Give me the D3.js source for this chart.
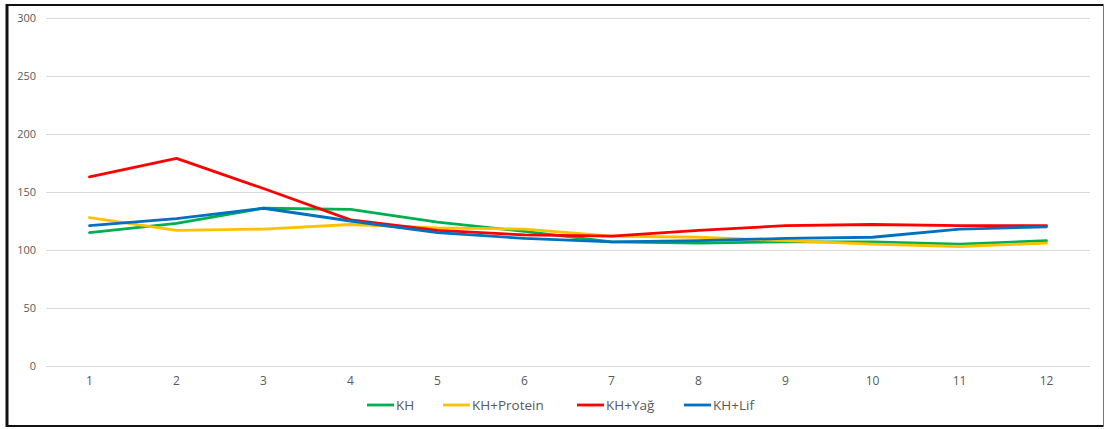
<!DOCTYPE html>
<html>
<head>
<meta charset="utf-8">
<script src="https://cdn.jsdelivr.net/npm/d3@7"></script>
<style>
  html, body { margin: 0; padding: 0; background: #fff; }
  svg { display: block; }
  text { font-family: "Open Sans", "Noto Sans", sans-serif; }
</style>
</head>
<body>
<svg id="chart" width="1105" height="429"></svg>
<script>
// Periods on the x axis
const categories = ["1", "2", "3", "4", "5", "6", "7", "8", "9", "10", "11", "12"];

// Series values
const kh        = [115, 123, 136, 135, 124, 116, 107, 106, 107, 107, 105, 108];
const khProtein = [128, 117, 118, 122, 119, 118, 112, 111, 108, 105, 103, 106];
const khYag     = [163, 179, 153, 126, 117, 113, 112, 117, 121, 122, 121, 121];
const khLif     = [121, 127, 136, 125, 115, 110, 107, 108, 110, 111, 118, 120];

const seriesNames = ["KH", "KH+Protein", "KH+Yağ", "KH+Lif"];
const seriesColors = ["#00B050", "#FFC000", "#FF0000", "#0070C0"];
const yTicks = [0, 50, 100, 150, 200, 250, 300];

const series = [kh, khProtein, khYag, khLif].map((values, i) => ({
  name: seriesNames[i], color: seriesColors[i], values
}));

const svg = d3.select("#chart");

// Frame around the chart
svg.append("line").attr("x1", 7).attr("x2", 7).attr("y1", 4).attr("y2", 427)
  .attr("stroke", "#111").attr("stroke-width", 3);
svg.append("line").attr("x1", 6).attr("x2", 1104).attr("y1", 5).attr("y2", 5)
  .attr("stroke", "#111").attr("stroke-width", 2);
svg.append("line").attr("x1", 6).attr("x2", 1104).attr("y1", 426).attr("y2", 426)
  .attr("stroke", "#111").attr("stroke-width", 2);
svg.append("line").attr("x1", 1103.5).attr("x2", 1103.5).attr("y1", 4).attr("y2", 427)
  .attr("stroke", "#777").attr("stroke-width", 1);

const plot = { left: 46, right: 1090, top: 18, bottom: 366 };

const x = d3.scaleBand().domain(categories).range([plot.left, plot.right]);
const y = d3.scaleLinear().domain([0, 300]).range([plot.bottom, plot.top]);

// Horizontal gridlines + y tick labels
const yAxis = d3.axisLeft(y).tickValues(yTicks).tickSize(-(plot.right - plot.left)).tickPadding(10);
const gy = svg.append("g").attr("transform", `translate(${plot.left},0)`).call(yAxis);
gy.select(".domain").remove();
gy.selectAll(".tick line").attr("stroke", "#d9d9d9").attr("stroke-width", 1);
gy.selectAll(".tick text").attr("fill", "#595959").style("font-size", "11px")
  .style("font-family", "'Open Sans', sans-serif");

// X axis labels
const xAxis = d3.axisBottom(x).tickSize(0).tickPadding(10);
const gx = svg.append("g").attr("transform", `translate(0,${plot.bottom})`).call(xAxis);
gx.select(".domain").remove();
gx.selectAll(".tick text").attr("fill", "#595959").style("font-size", "12px")
  .style("font-family", "'Open Sans', sans-serif");

// Lines
const line = d3.line()
  .x((d, i) => x(categories[i]) + x.bandwidth() / 2)
  .y(d => y(d));

svg.append("g").selectAll("path").data(series).join("path")
  .attr("d", d => line(d.values))
  .attr("fill", "none")
  .attr("stroke", d => d.color)
  .attr("stroke-width", 2.8)
  .attr("stroke-linejoin", "round")
  .attr("stroke-linecap", "round");

// Legend
const legendX = [367, 443, 577, 684];
const lg = svg.append("g").selectAll("g").data(series).join("g")
  .attr("transform", (d, i) => `translate(${legendX[i]},405)`);
lg.append("line").attr("x1", 0).attr("x2", 27).attr("y1", 0).attr("y2", 0)
  .attr("stroke", d => d.color).attr("stroke-width", 2.8);
lg.append("text").attr("x", 29).attr("y", 0).attr("dy", "0.35em")
  .attr("fill", "#595959").style("font-size", "13.5px")
  .style("font-family", "'Open Sans', sans-serif")
  .text(d => d.name);
</script>
</body>
</html>
